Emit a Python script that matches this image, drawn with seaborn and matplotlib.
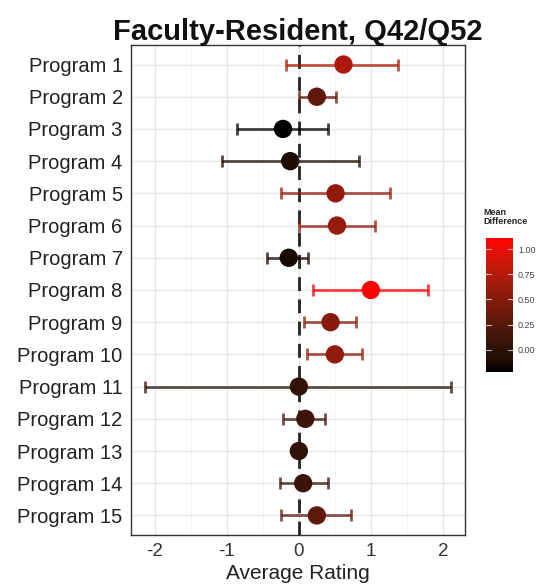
import numpy as np
import pandas as pd
import matplotlib
matplotlib.use("Agg")
import matplotlib.pyplot as plt
import matplotlib.colors as mcolors
import seaborn as sns

programs = [f"Program {i}" for i in range(1, 16)]
means = [0.62, 0.25, -0.22, -0.12, 0.51, 0.53, -0.14, 1.00, 0.44, 0.50, 0.00, 0.09, 0.00, 0.06, 0.25]
lows = [-0.18, 0.00, -0.86, -1.07, -0.25, 0.00, -0.44, 0.19, 0.07, 0.11, -2.13, -0.22, 0.00, -0.26, -0.25]
highs = [1.38, 0.51, 0.41, 0.83, 1.27, 1.06, 0.13, 1.80, 0.80, 0.88, 2.11, 0.36, 0.00, 0.41, 0.73]
x_ticks = [-2, -1, 0, 1, 2]
cbar_ticks = [0.00, 0.25, 0.50, 0.75, 1.00]

df = pd.DataFrame({"program": programs, "mean": means, "low": lows, "high": highs})

sns.set_style("white")
plt.rcParams['font.family'] = ['Liberation Sans', 'DejaVu Sans']


# black -> red gradient interpolated in CIE Lab (like ggplot2)
def lab_to_rgb(L, a, b):
    fy = (L + 16) / 116
    fx = fy + a / 500
    fz = fy - b / 200
    def finv(t):
        return np.where(t > 6 / 29, t ** 3, 3 * (6 / 29) ** 2 * (t - 4 / 29))
    X = 0.95047 * finv(fx)
    Y = 1.0 * finv(fy)
    Z = 1.08883 * finv(fz)
    r = 3.2406 * X - 1.5372 * Y - 0.4986 * Z
    g = -0.9689 * X + 1.8758 * Y + 0.0415 * Z
    bb = 0.0557 * X - 0.2040 * Y + 1.0570 * Z
    rgb = np.stack([r, g, bb], axis=-1)
    rgb = np.where(rgb <= 0.0031308, 12.92 * rgb, 1.055 * np.clip(rgb, 0, None) ** (1 / 2.4) - 0.055)
    return np.clip(rgb, 0, 1)


t = np.linspace(0, 1, 256)
red_lab = np.array([53.24, 80.09, 67.20])
lab = t[:, None] * red_lab
cmap = mcolors.ListedColormap(lab_to_rgb(lab[:, 0], lab[:, 1], lab[:, 2]))
norm = mcolors.Normalize(vmin=min(means), vmax=max(means))

fig = plt.figure(figsize=(5.46, 5.87), dpi=100)
ax = fig.add_axes([0.240, 0.089, 0.612, 0.834])

ypos = np.arange(len(programs))
df["y"] = ypos

for xt in x_ticks:
    ax.axvline(xt, color="#e8e8e8", lw=1.0, zorder=0)
for xt in [-1.5, -0.5, 0.5, 1.5]:
    ax.axvline(xt, color="#f4f4f4", lw=0.6, zorder=0)
for y in ypos:
    ax.axhline(y, color="#e8e8e8", lw=1.0, zorder=0)

ax.axvline(0, color="#222222", lw=2.0, ls=(0, (5, 3)), zorder=1)

for _, r in df.iterrows():
    c = cmap(norm(r["mean"]))
    ax.errorbar(r["mean"], r["y"], xerr=[[r["mean"] - r["low"]], [r["high"] - r["mean"]]],
                fmt="none", ecolor=c, elinewidth=2.0, capsize=4, capthick=2.0,
                alpha=0.75, zorder=2)

sns.scatterplot(data=df, x="mean", y="y", hue="mean", palette=cmap, hue_norm=norm,
                s=175, edgecolor="none", legend=False, ax=ax, zorder=3)

ax.set_xlim(-2.33, 2.31)
ax.set_ylim(len(programs) - 0.4, -0.6)
ax.set_yticks(ypos)
ax.set_yticklabels(programs, fontsize=14.5, color="#222222")
ax.set_xticks(x_ticks)
ax.set_xticklabels([str(t) for t in x_ticks], fontsize=13.5, color="#333333")
ax.tick_params(axis="both", length=3, color="#333333", direction="out")
ax.tick_params(axis="y", pad=3)
ax.tick_params(axis="x", pad=3)
ax.set_xlabel("Average Rating", fontsize=15, labelpad=3, color="#222222")
ax.set_ylabel("")
for s in ax.spines.values():
    s.set_color("#333333")
    s.set_linewidth(1.0)
ax.set_title("Faculty-Resident, Q42/Q52", fontsize=21, fontweight="bold", pad=4,
             color="#111111")

# colorbar
cax = fig.add_axes([0.890, 1 - 372 / 587, 0.050, (372 - 238) / 587])
sm = plt.cm.ScalarMappable(cmap=cmap, norm=mcolors.Normalize(vmin=min(means), vmax=1.11))
cb = fig.colorbar(sm, cax=cax, ticks=cbar_ticks)
cb.outline.set_visible(False)
cb.ax.tick_params(labelsize=6.5, length=0, colors="#444444")
cb.ax.set_yticklabels([f"{t:.2f}" for t in cbar_ticks])
for tk in cbar_ticks:
    cb.ax.plot([0, 0.2], [tk, tk], color="white", lw=0.8, alpha=0.7, transform=cb.ax.get_yaxis_transform())
    cb.ax.plot([0.8, 1.0], [tk, tk], color="white", lw=0.8, alpha=0.7, transform=cb.ax.get_yaxis_transform())
fig.text(0.885, 1 - 226 / 587, "Mean\nDifference", fontsize=6.5, fontweight="bold",
         ha="left", va="bottom", linespacing=1.0)

fig.savefig("out.png", dpi=100)
